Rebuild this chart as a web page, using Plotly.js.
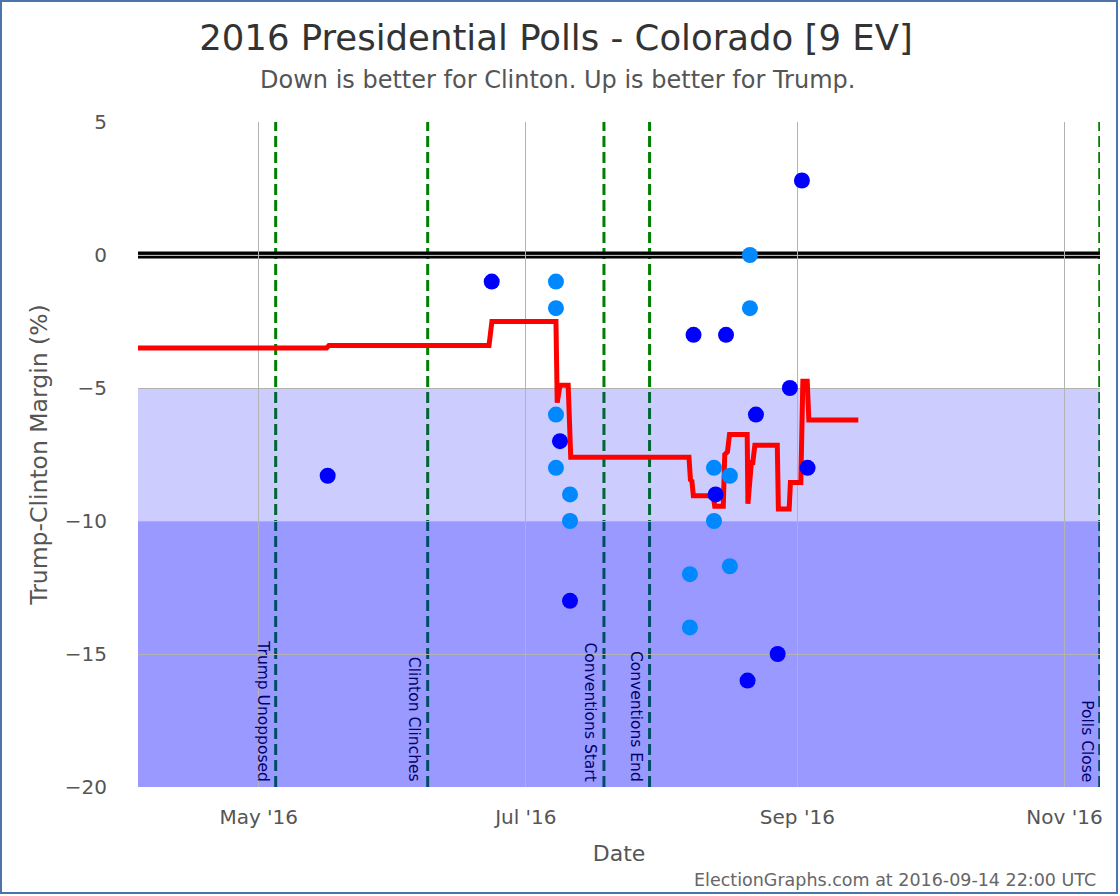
<!DOCTYPE html>
<html>
<head>
<meta charset="utf-8">
<script src="https://cdn.plot.ly/plotly-3.0.1.min.js"></script>
<style>
  html, body { margin: 0; padding: 0; background: #fff; }
  #wrap { position: relative; width: 1120px; height: 896px; }
  #chart { width: 1120px; height: 896px; }
  #frame { position: absolute; left: 0; top: 0; width: 1118px; height: 894px; box-sizing: border-box; border: 2px solid #4a74aa; pointer-events: none; }
</style>
</head>
<body>
<div id="wrap"><div id="chart"></div><div id="frame"></div></div>
<script>
// Poll average (red line)
const avgDates = [
  '2016-03-20 00:00', '2016-05-16 12:00', '2016-05-17 01:00', '2016-06-22 14:00', '2016-06-23 06:00',
  '2016-07-07 21:00', '2016-07-08 04:00', '2016-07-08 19:00', '2016-07-10 16:00', '2016-07-11 06:00',
  '2016-08-07 06:00', '2016-08-07 14:00', '2016-08-07 22:00', '2016-08-08 06:00', '2016-08-12 19:00',
  '2016-08-13 03:00', '2016-08-15 02:00', '2016-08-15 10:00', '2016-08-16 01:00', '2016-08-16 12:00',
  '2016-08-20 13:00', '2016-08-20 17:00', '2016-08-21 12:00', '2016-08-21 20:00', '2016-08-22 07:00',
  '2016-08-27 10:00', '2016-08-27 16:00', '2016-08-30 03:00', '2016-08-30 10:00', '2016-09-01 19:00',
  '2016-09-02 06:00', '2016-09-03 06:00', '2016-09-03 15:00', '2016-09-14 22:00'
];
const avgMargin = [
  -3.5, -3.5, -3.4, -3.4, -2.5,
  -2.5, -5.55, -4.9, -4.9, -7.6,
  -7.6, -8.45, -8.5, -9.05, -9.05,
  -9.45, -9.45, -7.5, -7.4, -6.75,
  -6.75, -9.35, -7.8, -7.8, -7.15,
  -7.15, -9.55, -9.55, -8.55, -8.55,
  -4.75, -4.75, -6.2, -6.2
];

// Individual polls (dark blue)
const pollDatesDark = [
  '2016-05-16 18:00', '2016-06-23 05:00', '2016-07-08 19:00', '2016-07-11 02:00', '2016-08-08 07:00',
  '2016-08-13 08:00', '2016-08-15 17:00', '2016-08-20 15:00', '2016-08-22 13:00', '2016-08-27 12:00',
  '2016-08-30 07:00', '2016-09-02 01:00', '2016-09-03 08:00'
];
const pollMarginDark = [-8.3, -1, -7, -13, -3, -9, -3, -16, -6, -15, -5, 2.8, -8];

// Individual polls (light blue)
const pollDatesLight = [
  '2016-07-07 21:00', '2016-07-07 21:00', '2016-07-07 21:00', '2016-07-07 21:00',
  '2016-07-11 02:00', '2016-07-11 02:00',
  '2016-08-07 11:00', '2016-08-07 11:00',
  '2016-08-12 23:00', '2016-08-12 23:00',
  '2016-08-16 14:00', '2016-08-16 14:00',
  '2016-08-21 04:00', '2016-08-21 04:00'
];
const pollMarginLight = [-1, -2, -6, -8, -9, -10, -12, -14, -8, -10, -8.3, -11.7, 0, -2];

// Event markers
const eventNames = ['Trump Unopposed', 'Clinton Clinches', 'Conventions Start', 'Conventions End', 'Polls Close'];
const eventDates = ['2016-05-04 21:00', '2016-06-08 14:00', '2016-07-18 20:00', '2016-07-29 06:00', '2016-11-09 01:00'];

// Axis settings
const xRange = ['2016-04-03 10:30', '2016-11-09 02:30'];
const yRange = [-20, 5];
const bandLight = [-10, -5];
const bandDark = [-20, -10];

const FONT = 'DejaVu Sans, sans-serif';

const traces = [
  {
    type: 'scatter', mode: 'lines', x: avgDates, y: avgMargin,
    line: { color: '#ff0000', width: 5 }, hoverinfo: 'skip', showlegend: false
  },
  {
    type: 'scatter', mode: 'markers', x: pollDatesLight, y: pollMarginLight,
    marker: { color: 'rgb(0,136,255)', size: 16, line: { width: 0 } }, showlegend: false
  },
  {
    type: 'scatter', mode: 'markers', x: pollDatesDark, y: pollMarginDark,
    marker: { color: '#0000ff', size: 16, line: { width: 0 } }, showlegend: false
  }
];

const shapes = [];
eventDates.forEach(d => {
  shapes.push({
    type: 'line', layer: 'between', xref: 'x', yref: 'paper', x0: d, x1: d, y0: 0, y1: 1,
    line: { color: '#008000', width: 3, dash: '11px,5px' }
  });
});
shapes.push({
  type: 'rect', layer: 'between', xref: 'paper', yref: 'y', x0: 0, x1: 1, y0: bandLight[0], y1: bandLight[1],
  fillcolor: '#0000ff', opacity: 0.2, line: { width: 0 }
});
shapes.push({
  type: 'rect', layer: 'between', xref: 'paper', yref: 'y', x0: 0, x1: 1, y0: bandDark[0], y1: bandDark[1],
  fillcolor: '#0000ff', opacity: 0.4, line: { width: 0 }
});
shapes.push({
  type: 'line', layer: 'between', xref: 'paper', yref: 'y', x0: 0, x1: 1, y0: 0, y1: 0,
  line: { color: '#000000', width: 7 }
});
shapes.push({
  type: 'line', layer: 'between', xref: 'paper', yref: 'y', x0: 0, x1: 1, y0: 0, y1: 0,
  line: { color: '#2e2e2e', width: 1 }
});

const annotations = eventNames.map((n, i) => ({
  text: n, x: eventDates[i], xref: 'x', y: yRange[0], yref: 'y',
  xanchor: 'center', yanchor: 'bottom', xshift: -13, yshift: 3,
  textangle: 90, showarrow: false,
  font: { family: FONT, size: 15.5, color: 'rgb(0,0,102)' }
}));
annotations.push({
  text: 'Down is better for Clinton. Up is better for Trump.',
  xref: 'paper', yref: 'paper', x: (557 - 138) / 962, y: (787 - 80) / 665,
  xanchor: 'center', yanchor: 'middle', showarrow: false,
  font: { family: FONT, size: 24, color: '#555555' }
});
annotations.push({
  text: 'ElectionGraphs.com at 2016-09-14 22:00 UTC',
  xref: 'paper', yref: 'paper', x: (1098 - 138) / 962, y: (787 - 880) / 665,
  xanchor: 'right', yanchor: 'middle', showarrow: false,
  font: { family: FONT, size: 17.5, color: '#666666' }
});

const layout = {
  width: 1120, height: 896,
  margin: { l: 138, r: 20, t: 122, b: 109, pad: 0 },
  paper_bgcolor: '#ffffff', plot_bgcolor: '#ffffff',
  font: { family: FONT, color: '#555555' },
  title: {
    text: '2016 Presidential Polls - Colorado [9 EV]',
    font: { family: FONT, size: 35.5, color: '#333333' },
    xref: 'container', yref: 'container', x: 556 / 1120, xanchor: 'center',
    y: 1 - 38 / 896, yanchor: 'middle'
  },
  xaxis: {
    type: 'date', range: xRange, dtick: 'M2', tick0: '2016-05-01', tickformat: "%b '%y",
    showgrid: true, gridcolor: '#b3b3b3', gridwidth: 1, zeroline: false, showline: false,
    ticks: 'outside', ticklen: 12, tickcolor: 'rgba(0,0,0,0)',
    tickfont: { family: FONT, size: 20, color: '#555555' },
    title: { text: 'Date', font: { family: FONT, size: 22, color: '#555555' }, standoff: 17 },
    fixedrange: true
  },
  yaxis: {
    range: yRange, dtick: 5, tick0: 0,
    showgrid: true, gridcolor: '#b3b3b3', gridwidth: 1, zeroline: false, showline: false,
    ticks: 'outside', ticklen: 26, tickcolor: 'rgba(0,0,0,0)',
    tickfont: { family: FONT, size: 20, color: '#555555' },
    title: { text: 'Trump-Clinton Margin (%)', font: { family: FONT, size: 23.5, color: '#555555' }, standoff: 10 },
    fixedrange: true
  },
  shapes: shapes,
  annotations: annotations,
  showlegend: false
};

Plotly.newPlot('chart', traces, layout, { displayModeBar: false, staticPlot: true });
</script>
</body>
</html>
